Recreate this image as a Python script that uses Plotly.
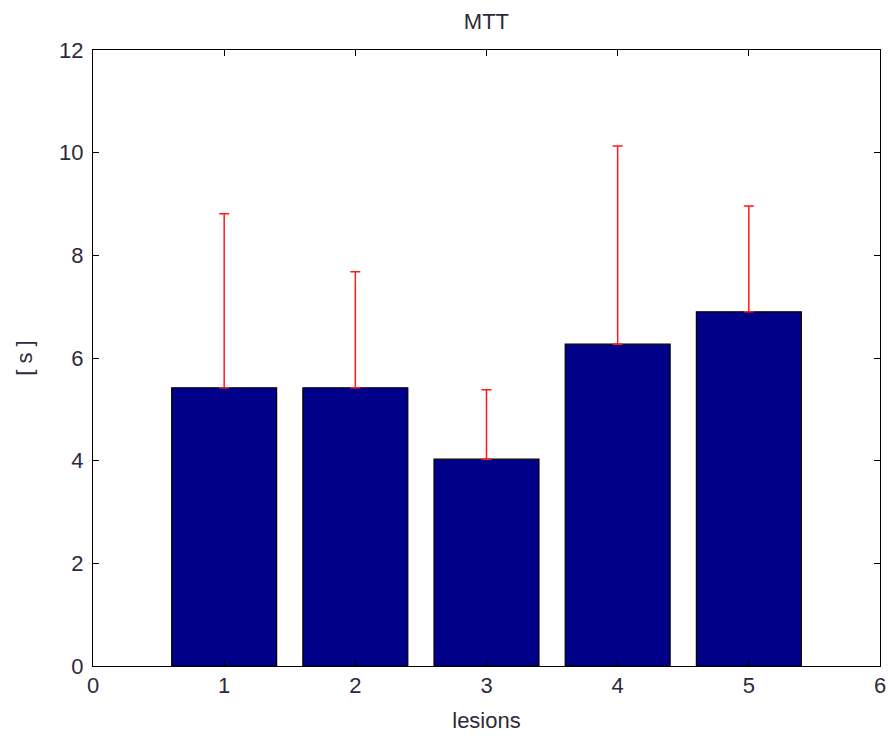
import plotly.graph_objects as go

categories = [1, 2, 3, 4, 5]
mtt_mean = [5.42, 5.42, 4.03, 6.27, 6.90]
mtt_err_plus = [3.39, 2.26, 1.35, 3.86, 2.06]
x_ticks = [0, 1, 2, 3, 4, 5, 6]
y_ticks = [0, 2, 4, 6, 8, 10, 12]

txt = "#2e2a3a"
font_family = "Liberation Sans, Arial, sans-serif"

fig = go.Figure()
fig.add_trace(go.Bar(
    x=categories, y=mtt_mean, width=0.8,
    marker=dict(color="#000088", line=dict(color="black", width=1.2)),
    error_y=dict(type="data", symmetric=False, array=mtt_err_plus,
                 arrayminus=[0] * len(mtt_mean),
                 color="#ff1a1a", thickness=1.5, width=5),
    showlegend=False,
))

axis_common = dict(
    showline=True, linecolor="black", linewidth=1, mirror="ticks",
    ticks="inside", ticklen=6, tickcolor="black", tickwidth=1,
    showgrid=False, zeroline=False, automargin=False,
    tickfont=dict(family=font_family, size=22, color=txt),
)

fig.update_layout(
    width=890, height=740,
    margin=dict(l=93, r=10, t=50, b=74, autoexpand=False),
    paper_bgcolor="white", plot_bgcolor="white",
    title=dict(text="MTT", x=0.5466, xanchor="center", y=0.9716, yanchor="middle",
               font=dict(family=font_family, size=22, color=txt)),
    xaxis=dict(range=[0, 6], tickvals=x_ticks, ticktext=[str(v) for v in x_ticks],
               title=dict(text="lesions", standoff=15,
                          font=dict(family=font_family, size=22, color=txt)),
               **axis_common),
    yaxis=dict(range=[0, 12], tickvals=y_ticks, ticktext=[str(v) for v in y_ticks],
               ticklabelstandoff=4,
               title=dict(text="[ s ]", standoff=20,
                          font=dict(family=font_family, size=22, color=txt)),
               **axis_common),
)

fig.write_html("out.html", config={"displayModeBar": False},
               post_script="document.body.style.margin='0';document.body.style.overflow='hidden';")
